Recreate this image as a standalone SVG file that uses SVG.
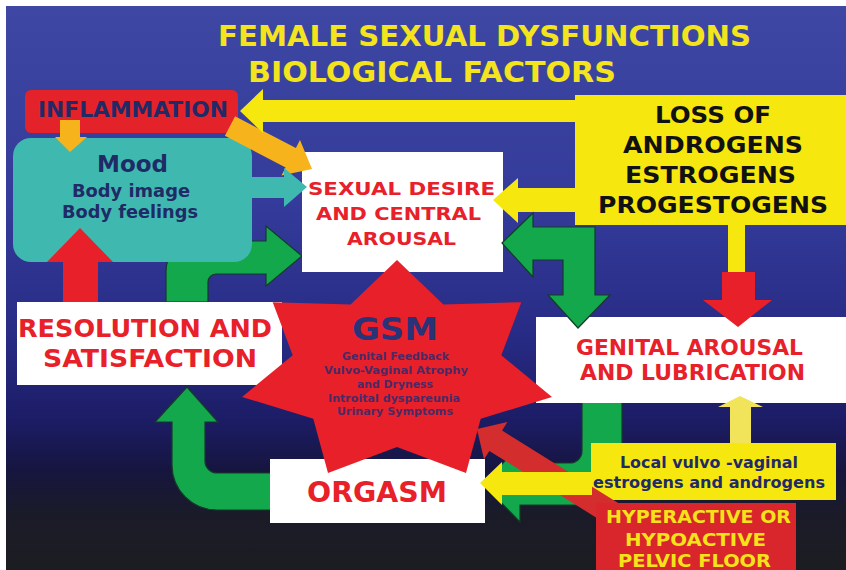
<svg xmlns="http://www.w3.org/2000/svg" width="846" height="570" viewBox="0 0 846 570">
  <defs>
    <linearGradient id="bg" x1="0" y1="0" x2="0" y2="1">
      <stop offset="0" stop-color="#3e47a3"/>
      <stop offset="0.344" stop-color="#343b9a"/>
      <stop offset="0.574" stop-color="#282c86"/>
      <stop offset="0.734" stop-color="#1c1c66"/>
      <stop offset="0.823" stop-color="#16153f"/>
      <stop offset="0.902" stop-color="#1a1b28"/>
      <stop offset="1" stop-color="#1c1d21"/>
    </linearGradient>
    <style>
      .t { font-family: "DejaVu Sans", Verdana, "Liberation Sans", sans-serif; font-weight: bold; }
      .green { fill: #12a84b; stroke: #173a2b; stroke-width: 1.2; stroke-linejoin: miter; }
      .yellow { fill: #f6e80f; }
      .red { fill: #e8202a; }
      .orange { fill: #f6b31c; }
      .teal { fill: #3fb9b0; }
      .white { fill: #ffffff; }
      .redtxt { fill: #e8202a; }
      .navytxt { fill: #1f2a66; }
    </style>
  </defs>

  <rect x="0" y="0" width="846" height="570" fill="#ffffff"/>
  <rect x="6" y="6" width="840" height="564" fill="url(#bg)"/>

  <g id="title">
    <text class="t" x="218" y="46" font-size="27.5" fill="#f3e41e" textLength="533" lengthAdjust="spacingAndGlyphs">FEMALE SEXUAL DYSFUNCTIONS</text>
    <text class="t" x="248" y="82" font-size="27.5" fill="#f3e41e" textLength="368" lengthAdjust="spacingAndGlyphs">BIOLOGICAL FACTORS</text>
  </g>

  <g id="connectors-back">
    <path class="green" d="M166,302 L166,271 A30,30 0 0 1 196,241 L266,241 L266,226 L302,256 L266,286 L266,274 L216,274 A8,8 0 0 0 208,282 L208,302 Z"/>
    <path class="green" d="M582,402 L622,402 L622,480 A25,25 0 0 1 597,505 L520,505 L520,522 L483,484 L520,445 L520,463 L570,463 A12,12 0 0 0 582,451 Z"/>
    <path class="green" d="M272,473 L272,510 L217,510 A45,45 0 0 1 172,465 L172,422 L155,422 L187,387 L218,422 L205,422 L205,461 A12,12 0 0 0 217,473 Z"/>
  </g>

  <g id="mood">
    <rect class="teal" x="13" y="138" width="239" height="124" rx="18"/>
    <text class="t navytxt" x="97" y="172" font-size="23.5" textLength="71" lengthAdjust="spacingAndGlyphs">Mood</text>
    <text class="t navytxt" x="72" y="197" font-size="17.5" textLength="118" lengthAdjust="spacingAndGlyphs">Body image</text>
    <text class="t navytxt" x="62" y="218" font-size="17.5" textLength="136" lengthAdjust="spacingAndGlyphs">Body feelings</text>
  </g>

  <g id="inflammation">
    <rect x="25" y="90" width="213" height="43" rx="6" fill="#e3222a"/>
    <text class="t navytxt" x="38" y="117" font-size="20.5" textLength="190" lengthAdjust="spacingAndGlyphs">INFLAMMATION</text>
  </g>

  <g id="sexual-desire">
    <rect class="white" x="302" y="152" width="201" height="120"/>
    <text class="t redtxt" x="308" y="195" font-size="18" textLength="187" lengthAdjust="spacingAndGlyphs">SEXUAL DESIRE</text>
    <text class="t redtxt" x="316" y="220" font-size="18" textLength="165" lengthAdjust="spacingAndGlyphs">AND CENTRAL</text>
    <text class="t redtxt" x="347" y="245" font-size="18" textLength="109" lengthAdjust="spacingAndGlyphs">AROUSAL</text>
  </g>

  <g id="loss-of-hormones">
    <rect class="yellow" x="575" y="95" width="271" height="130"/>
    <text class="t" fill="#111111" x="655" y="123" font-size="23.5" textLength="116" lengthAdjust="spacingAndGlyphs">LOSS OF</text>
    <text class="t" fill="#111111" x="623" y="153" font-size="23.5" textLength="180" lengthAdjust="spacingAndGlyphs">ANDROGENS</text>
    <text class="t" fill="#111111" x="625" y="183" font-size="23.5" textLength="171" lengthAdjust="spacingAndGlyphs">ESTROGENS</text>
    <text class="t" fill="#111111" x="598" y="213" font-size="23.5" textLength="230" lengthAdjust="spacingAndGlyphs">PROGESTOGENS</text>
  </g>

  <g id="resolution">
    <rect class="white" x="17" y="302" width="265" height="83"/>
    <text class="t redtxt" x="18" y="337" font-size="25" textLength="254" lengthAdjust="spacingAndGlyphs">RESOLUTION AND</text>
    <text class="t redtxt" x="43" y="367" font-size="25" textLength="214" lengthAdjust="spacingAndGlyphs">SATISFACTION</text>
  </g>

  <g id="genital-arousal">
    <rect class="white" x="536" y="317" width="310" height="86"/>
    <text class="t redtxt" x="576" y="355" font-size="20.5" textLength="227" lengthAdjust="spacingAndGlyphs">GENITAL AROUSAL</text>
    <text class="t redtxt" x="580" y="380" font-size="20.5" textLength="225" lengthAdjust="spacingAndGlyphs">AND LUBRICATION</text>
  </g>

  <g id="orgasm">
    <rect class="white" x="270" y="459" width="215" height="64"/>
    <text class="t redtxt" x="307" y="502" font-size="27.5" textLength="140" lengthAdjust="spacingAndGlyphs">ORGASM</text>
  </g>

  <g id="local-hormones">
    <rect class="yellow" x="591" y="443" width="245" height="57"/>
    <text class="t navytxt" x="620" y="468" font-size="15.5" textLength="178" lengthAdjust="spacingAndGlyphs">Local vulvo -vaginal</text>
    <text class="t navytxt" x="593" y="488" font-size="15.5" textLength="232" lengthAdjust="spacingAndGlyphs">estrogens and androgens</text>
  </g>

  <g id="pelvic-floor">
    <rect x="596" y="503" width="200" height="67" fill="#d8262c"/>
    <text class="t" fill="#f5e31a" x="606" y="523" font-size="18.5" textLength="185" lengthAdjust="spacingAndGlyphs">HYPERACTIVE OR</text>
    <text class="t" fill="#f5e31a" x="625" y="546" font-size="18.5" textLength="141" lengthAdjust="spacingAndGlyphs">HYPOACTIVE</text>
    <text class="t" fill="#f5e31a" x="618" y="567" font-size="18.5" textLength="153" lengthAdjust="spacingAndGlyphs">PELVIC FLOOR</text>
  </g>

  <g id="gsm">
    <polygon class="red" points="397,260 443.4,304.4 521.3,302.2 501.3,355.3 552,396.9 480.7,418.8 466,472.9 397,447 328,472.9 313.3,418.8 242,396.9 292.7,355.3 272.7,302.2 350.6,304.4"/>
    <text class="t" fill="#2a3378" x="352" y="340" font-size="32" textLength="86" lengthAdjust="spacingAndGlyphs">GSM</text>
    <g class="t" fill="#4b2a63" font-size="10.5">
      <text x="342" y="360" textLength="107" lengthAdjust="spacingAndGlyphs">Genital Feedback</text>
      <text x="324" y="374" textLength="144" lengthAdjust="spacingAndGlyphs">Vulvo-Vaginal Atrophy</text>
      <text x="357" y="388" textLength="76" lengthAdjust="spacingAndGlyphs">and Dryness</text>
      <text x="328" y="402" textLength="132" lengthAdjust="spacingAndGlyphs">Introital dyspareunia</text>
      <text x="337" y="415" textLength="116" lengthAdjust="spacingAndGlyphs">Urinary Symptoms</text>
    </g>
  </g>

  <g id="connectors">
    <path class="red" d="M63,302 L63,262 L47,262 L80,228 L113,262 L98,262 L98,302 Z"/>
    <path class="orange" d="M60,120 L80,120 L80,137 L87,137 L70,152 L55,137 L60,137 Z"/>
    <path class="orange" d="M235.1,116.3 L295.9,148.1 L300.0,140.1 L312,169 L281.5,175.6 L285.6,167.6 L224.9,135.7 Z"/>
    <path class="teal" d="M250,177 L284,177 L284,168 L307,187 L284,207 L284,198 L250,198 Z"/>
    <path class="yellow" d="M576,100 L263,100 L263,89 L240,111 L263,133 L263,122 L576,122 Z"/>
    <path class="yellow" d="M576,188 L518,188 L518,178 L493,200 L518,223 L518,212 L576,212 Z"/>
    <path class="green" d="M502,243 L533,213 L533,227 L595,227 L595,295 L610,295 L578,328 L548,295 L563,295 L563,260 L533,260 L533,277 Z"/>
    <rect class="yellow" x="728" y="224" width="17" height="49"/>
    <path class="red" d="M722,272 L755,272 L755,300 L772,300 L738,327 L703,300 L722,300 Z"/>
    <path fill="#f1e35a" d="M730,443 L730,407 L718,407 L740,396 L763,407 L751,407 L751,443 Z"/>
    <path fill="#d42d2d" d="M502.1,430.5 L507.4,422.0 L477,429 L484.0,459.4 L489.3,450.9 L596,517.5 L596,503 L618.2,503 Z"/>
    <path class="yellow" d="M592,472 L502,472 L502,462 L480,483 L502,505 L502,495 L592,495 Z"/>
  </g>
</svg>
